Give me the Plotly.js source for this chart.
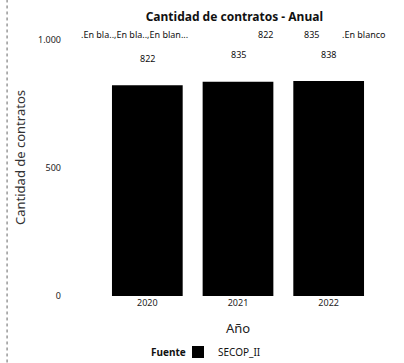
<!DOCTYPE html>
<html><head><meta charset="utf-8">
<script src="https://cdn.plot.ly/plotly-3.0.1.min.js"></script>
<style>body{margin:0;background:#fff}#c{width:404px;height:363px}</style>
</head><body><div id="c"></div>
<script>
const years = ["2020", "2021", "2022"];
const contratos = [822, 835, 838];
const topLabels = [".En bla..,En bla..,En blan...", "822", "835", ".En blanco"];
const topLabelX = [134, 265, 311, 364];
const yTickVals = [0, 500, 1000];
const yTickText = ["0", "500", "1.000"];
const legendTitle = "Fuente";

const font = "Noto Sans, DejaVu Sans, sans-serif";
const annotations = years.map((y, i) => ({
  x: i, y: contratos[i], xref: "x", yref: "y", text: String(contratos[i]),
  showarrow: false, yshift: 27, font: {family: font, size: 9, color: "#111"}
}));
topLabels.forEach((t, i) => annotations.push({
  x: (topLabelX[i] - 102) / 272, y: (296 - 34) / 277, xref: "paper", yref: "paper",
  xanchor: "center", yanchor: "middle",
  text: t, showarrow: false, font: {family: font, size: 9, color: "#111"}
}));
annotations.push({
  x: (149 - 102) / 272, y: (296 - 352) / 277, xref: "paper", yref: "paper", xanchor: "left", yanchor: "middle",
  text: "<b>" + legendTitle + "</b>", showarrow: false, font: {family: font, size: 10, color: "#111"}
});

const data = [{
  type: "bar", x: years, y: contratos, name: "SECOP_II",
  marker: {color: "#000000"}, showlegend: true
}];
const layout = {
  width: 404, height: 363,
  margin: {l: 102, r: 30, t: 19, b: 67},
  paper_bgcolor: "#fff", plot_bgcolor: "#fff",
  bargap: 0.22,
  title: {text: "<b>Cantidad de contratos - Anual</b>", x: 0.58, xanchor: "center", y: 0.953, yanchor: "middle",
          font: {family: font, size: 12, color: "#111"}},
  xaxis: {type: "category", range: [-0.5, 2.5], automargin: false, showgrid: false, zeroline: false, showline: false, ticks: "",
          tickfont: {family: font, size: 9, color: "#222"},
          title: {text: "Año", font: {family: font, size: 13, color: "#222"}, standoff: 15}},
  yaxis: {range: [0, 1080], automargin: false, showgrid: false, zeroline: false, showline: false, ticks: "",
          tickvals: yTickVals, ticktext: yTickText, ticklabelstandoff: 40,
          tickfont: {family: font, size: 9, color: "#222"},
          title: {text: "Cantidad de contratos", font: {family: font, size: 13, color: "#333"}, standoff: 9}},
  legend: {orientation: "h", x: (178 - 102) / 272, xanchor: "left", xref: "paper", y: 11 / 363, yref: "container", yanchor: "middle",
           font: {family: font, size: 10, color: "#111"}, itemwidth: 30},
  annotations: annotations,
  shapes: [{type: "line", xref: "paper", yref: "paper", x0: -0.349, x1: -0.349, y0: -0.24, y1: 1.07,
            line: {color: "#666", width: 1, dash: "dot"}}]
};
Plotly.newPlot("c", data, layout, {displayModeBar: false, staticPlot: true});
</script></body></html>
